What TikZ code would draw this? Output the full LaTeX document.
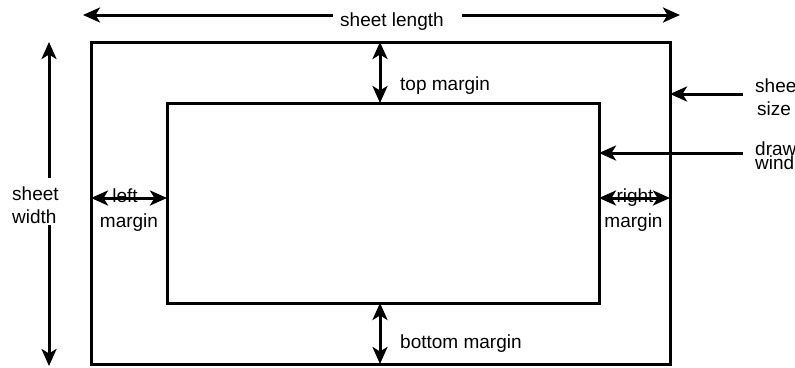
\documentclass[tikz,border=0pt]{standalone}
\usepackage{fontspec}
\setmainfont{Liberation Sans}
\usetikzlibrary{arrows.meta}
\tikzset{
  ln/.style={line width=3pt},
  arr/.style={ln,-{Stealth[length=17pt,width=15pt,inset=4.5pt]}},
  dbl/.style={ln,{Stealth[length=17pt,width=15pt,inset=4.5pt]}-{Stealth[length=17pt,width=15pt,inset=4.5pt]}},
  boxn/.style={draw,ln,inner sep=0pt,outer sep=0pt},
  lbl/.style={inner sep=0pt,font=\fontsize{19pt}{23pt}\selectfont}
}
\begin{document}
\begin{tikzpicture}[x=1pt,y=-1pt]
\useasboundingbox (0,0) rectangle (795,367);
% rectangles
\node[boxn,minimum width=579pt,minimum height=322pt] (sheet) at (380.5,203) {};
\node[boxn,minimum width=432pt,minimum height=200pt] (window) at (383,203) {};
% sheet length
\node[lbl,anchor=base west] (sl) at (340,26) {sheet length};
\coordinate (slA) at (333,15);
\coordinate (slB) at (83,15);
\coordinate (slC) at (462,15);
\coordinate (slD) at (680,15);
\draw[arr] (slA) -- (slB);
\draw[arr] (slC) -- (slD);
% sheet width
\node[lbl,anchor=base west] (sw1) at (12,200) {sheet};
\node[lbl,anchor=base west] (sw2) at (12,223) {width};
\coordinate (swA) at (49,178);
\coordinate (swB) at (49,42);
\coordinate (swC) at (49,225);
\coordinate (swD) at (49,366);
\draw[arr] (swA) -- (swB);
\draw[arr] (swC) -- (swD);
% top / bottom margins
\coordinate (mx) at (380,0);
\draw[dbl] (sheet.north -| mx) -- (window.north -| mx);
\draw[dbl] (window.south -| mx) -- (sheet.south -| mx);
\node[lbl,anchor=base west] (tm) at (400,90) {top margin};
\node[lbl,anchor=base west] (bm) at (400,348) {bottom margin};
% left / right margins
\coordinate (my) at (0,198);
\draw[dbl] (sheet.west |- my) -- (window.west |- my);
\draw[dbl] (window.east |- my) -- (sheet.east |- my);
\node[lbl,anchor=base] (lm1) at (125,202) {left};
\node[lbl,anchor=base] (lm2) at (129,227) {margin};
\node[lbl,anchor=base] (rm1) at (635,202) {right};
\node[lbl,anchor=base] (rm2) at (633.5,227) {margin};
% right labels
\coordinate (ss) at (743,94);
\draw[arr] (ss) -- (sheet.east |- ss);
\node[lbl,anchor=base west] (ss1) at (755,92) {sheet};
\node[lbl,anchor=base west] (ss2) at (757,115) {size};
\coordinate (dw) at (743,153);
\draw[arr] (dw) -- (window.east |- dw);
\node[lbl,anchor=base west] (dw1) at (755,155) {drawing};
\node[lbl,anchor=base west] (dw2) at (755,169) {window};
\end{tikzpicture}
\end{document}
